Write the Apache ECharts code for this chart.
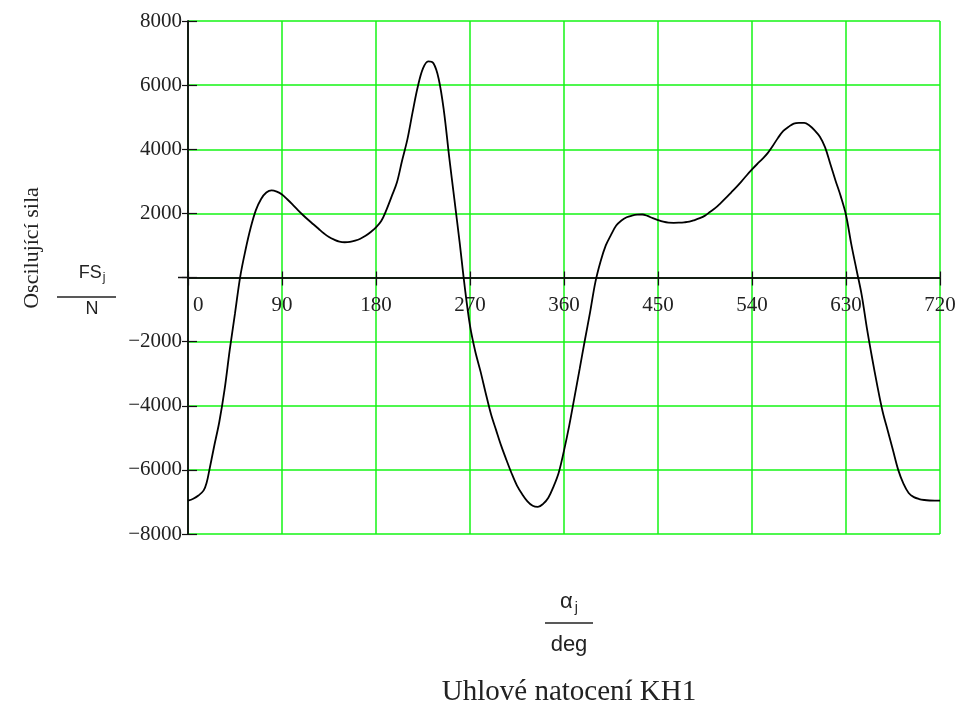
<!DOCTYPE html>
<html>
<head>
<meta charset="utf-8">
<script src="https://cdn.jsdelivr.net/npm/echarts@6/dist/echarts.min.js"></script>
<style>
  html, body { margin: 0; padding: 0; background: #ffffff; }
  #chart { width: 966px; height: 707px; }
</style>
</head>
<body>
<div id="chart"></div>
<script>
// Crank angle samples [deg]
const angleDeg = [
  0, 5, 10, 15, 18, 20, 25, 30, 35, 40, 45, 50, 55, 60, 65, 70, 75, 80, 85, 90,
  95, 100, 105, 110, 115, 120, 125, 130, 135, 140, 145, 150, 155, 160, 165, 170, 175, 180,
  185, 190, 195, 200, 205, 210, 215, 220, 225, 230, 235, 240, 245, 250, 255, 260, 265, 270,
  275, 280, 285, 290, 295, 300, 305, 310, 315, 320, 325, 330, 335, 340, 345, 350, 355, 360,
  365, 370, 375, 380, 385, 390, 395, 400, 405, 410, 415, 420, 425, 430, 435, 440, 445, 450,
  455, 460, 465, 470, 475, 480, 485, 490, 495, 500, 505, 510, 515, 520, 525, 530, 535, 540,
  545, 550, 555, 560, 565, 570, 575, 580, 585, 590, 595, 600, 605, 610, 615, 620, 625, 630,
  635, 640, 645, 650, 655, 660, 665, 670, 675, 680, 685, 690, 695, 700, 705, 710, 715, 720
];

// Oscillating force FS [N] at each angle
const forceN = [
  -6960, -6900, -6800, -6640, -6380, -6080, -5270, -4500, -3500, -2250, -1120, 30, 850, 1550, 2100, 2450, 2650, 2720, 2680, 2590,
  2440, 2280, 2110, 1950, 1800, 1660, 1520, 1380, 1260, 1180, 1120, 1100, 1110, 1150, 1210, 1300, 1420, 1560,
  1760, 2110, 2530, 2960, 3650, 4300, 5150, 5950, 6520, 6740, 6680, 6200, 5200, 3780, 2450, 1120, -300, -1500,
  -2300, -2920, -3600, -4250, -4760, -5260, -5700, -6120, -6490, -6760, -6980, -7120, -7155, -7060, -6870, -6520, -6080, -5400,
  -4620, -3740, -2850, -1950, -1080, -150, 500, 1000, 1330, 1620, 1780, 1880, 1930, 1960, 1965, 1920, 1850, 1790,
  1740, 1710, 1705, 1710, 1720, 1740, 1790, 1850, 1930, 2050, 2170, 2320, 2480, 2650, 2820, 3000, 3190, 3370,
  3540, 3700, 3880, 4110, 4360, 4570, 4700, 4800, 4820, 4820, 4740, 4590, 4390, 4060, 3540, 3020, 2530, 1950,
  1050, 250, -540, -1580, -2510, -3380, -4170, -4780, -5390, -6000, -6430, -6720, -6850, -6910, -6940, -6955, -6960, -6960
];

// Axis ranges and tick spacing
const angleRange = [0, 720];
const angleStep = 90;
const forceRange = [-8000, 8000];
const forceStep = 2000;

const yTitle = 'Oscilující sila';
const xTitle = 'Uhlové natocení KH1';

const serif = '"Liberation Serif", "DejaVu Serif", serif';
const sans = '"Liberation Sans", Arial, sans-serif';
const gridGreen = '#14f514';
const ink = '#111111';

const chart = echarts.init(document.getElementById('chart'), null, { renderer: 'canvas' });

const points = angleDeg.map((a, i) => [a, forceN[i]]);

function fmtForce(v) {
  if (v === 0) return '';
  return v < 0 ? '\u2212' + (-v) : String(v);
}

function fmtAngle(v) {
  return v === angleRange[0] ? '{first|' + v + '}' : String(v);
}

const xCommon = {
  type: 'value',
  min: angleRange[0],
  max: angleRange[1],
  interval: angleStep,
  position: 'bottom'
};
const yCommon = {
  type: 'value',
  min: forceRange[0],
  max: forceRange[1],
  interval: forceStep,
  position: 'left'
};

chart.setOption({
  animation: false,
  backgroundColor: '#ffffff',
  grid: { left: 188, right: 26, top: 21, bottom: 173, containLabel: false },
  xAxis: [
    Object.assign({}, xCommon, {
      axisLine: { show: true, onZero: false, lineStyle: { color: ink, width: 1.5 } },
      axisTick: { show: true, inside: false, length: 8, lineStyle: { color: ink, width: 1.2 } },
      axisLabel: {
        show: true, margin: 17, color: '#222', fontFamily: serif, fontSize: 21,
        alignMinLabel: 'left',
        formatter: fmtAngle,
        rich: {
          first: { fontFamily: serif, fontSize: 21, color: '#222', padding: [0, 0, 0, 5] }
        }
      },
      splitLine: { show: true, lineStyle: { color: gridGreen, width: 1.5 } }
    }),
    Object.assign({}, xCommon, {
      axisLine: { show: true, onZero: false, lineStyle: { color: ink, width: 1.5 } },
      axisTick: { show: true, inside: true, length: 6, lineStyle: { color: ink, width: 1.2 } },
      axisLabel: { show: false },
      splitLine: { show: false }
    })
  ],
  yAxis: [
    Object.assign({}, yCommon, {
      axisLine: { show: true, onZero: false, lineStyle: { color: ink, width: 1.5 } },
      axisTick: { show: true, inside: false, length: 6, lineStyle: { color: ink, width: 1.2 } },
      axisLabel: {
        show: true, margin: 6, color: '#222', fontFamily: serif, fontSize: 21,
        formatter: fmtForce
      },
      splitLine: { show: true, lineStyle: { color: gridGreen, width: 1.5 } }
    }),
    Object.assign({}, yCommon, {
      axisLine: { show: true, onZero: false, lineStyle: { color: ink, width: 1.5 } },
      axisTick: { show: true, inside: true, length: 9, lineStyle: { color: ink, width: 1.2 } },
      axisLabel: { show: false },
      splitLine: { show: false }
    })
  ],
  series: [{
    type: 'line',
    xAxisIndex: 0,
    yAxisIndex: 0,
    data: points,
    showSymbol: false,
    smooth: 0.35,
    lineStyle: { color: '#000000', width: 1.8 },
    z: 5
  }]
});

// Shift the angle axis (line, ticks and labels) up to the zero force level
const origin = chart.convertToPixel({ xAxisIndex: 0, yAxisIndex: 0 }, [0, 0]);
const bottomEdge = chart.convertToPixel({ yAxisIndex: 0 }, forceRange[0]);
const zeroShift = origin[1] - bottomEdge;

chart.setOption({
  xAxis: [{ offset: zeroShift }, { offset: zeroShift }],
  graphic: [
    // zero line stub to the left of the vertical axis
    { type: 'line', shape: { x1: origin[0] - 10, y1: origin[1], x2: origin[0], y2: origin[1] },
      style: { stroke: ink, lineWidth: 1.5 }, z: 10 },

    // vertical axis caption
    { type: 'text', x: 32, y: 248, rotation: Math.PI / 2,
      style: { text: yTitle, font: '22px ' + serif, fill: '#222', align: 'center', verticalAlign: 'middle' } },

    // FS_j / N fraction
    { type: 'text', x: 92, y: 273,
      style: {
        text: '{a|FS}{b|j}',
        rich: {
          a: { fontFamily: sans, fontSize: 18, fill: '#222' },
          b: { fontFamily: sans, fontSize: 12, fill: '#222', padding: [10, 0, 0, 1] }
        },
        align: 'center', verticalAlign: 'middle'
      } },
    { type: 'line', shape: { x1: 57, y1: 297, x2: 116, y2: 297 }, style: { stroke: '#222', lineWidth: 1.5 } },
    { type: 'text', x: 92, y: 309,
      style: { text: 'N', font: '18px ' + sans, fill: '#222', align: 'center', verticalAlign: 'middle' } },

    // alpha_j / deg fraction
    { type: 'text', x: 569, y: 602,
      style: {
        text: '{a|\u03b1}{b|j}',
        rich: {
          a: { fontFamily: sans, fontSize: 22, fill: '#222' },
          b: { fontFamily: sans, fontSize: 14, fill: '#222', padding: [12, 0, 0, 2] }
        },
        align: 'center', verticalAlign: 'middle'
      } },
    { type: 'line', shape: { x1: 545, y1: 623, x2: 593, y2: 623 }, style: { stroke: '#222', lineWidth: 1.5 } },
    { type: 'text', x: 569, y: 645,
      style: { text: 'deg', font: '22px ' + sans, fill: '#222', align: 'center', verticalAlign: 'middle' } },

    // horizontal axis caption
    { type: 'text', x: 569, y: 692,
      style: { text: xTitle, font: '29px ' + serif, fill: '#222', align: 'center', verticalAlign: 'middle' } }
  ]
});
</script>
</body>
</html>
